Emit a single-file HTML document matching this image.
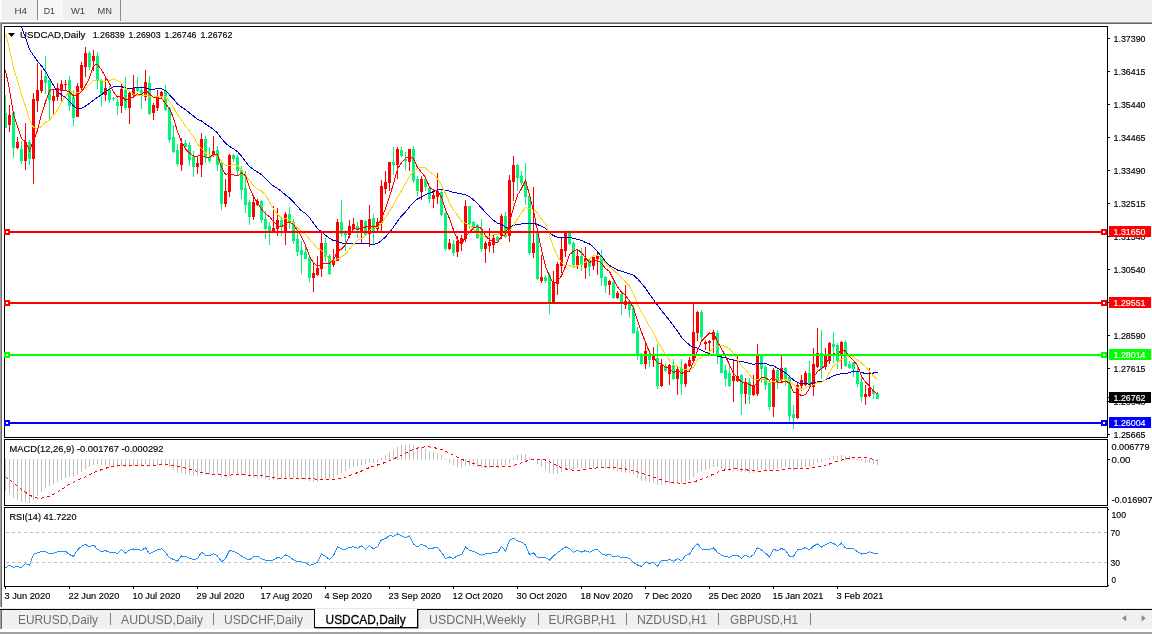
<!DOCTYPE html><html><head><meta charset="utf-8"><title>USDCAD,Daily</title>
<style>html,body{margin:0;padding:0;background:#fff;overflow:hidden}svg{display:block}text{font-family:"Liberation Sans",sans-serif;white-space:pre}</style></head><body>
<svg width="1152" height="634" viewBox="0 0 1152 634" shape-rendering="crispEdges">
<rect x="0" y="0" width="1152" height="634" fill="#fff"/>
<rect x="0" y="0" width="1152" height="21" fill="#f0f0f0"/>
<rect x="0" y="21" width="1152" height="1" fill="#f6f6f6"/>
<rect x="0" y="20" width="122" height="1" fill="#f5f5f5"/>
<rect x="0" y="21" width="122" height="1" fill="#fcfcfc"/>
<rect x="0" y="0" width="1" height="20" fill="#fcfcfc"/>
<rect x="1" y="0" width="1" height="20" fill="#f6f6f6"/>
<pattern id="ck" width="2" height="2" patternUnits="userSpaceOnUse"><rect width="2" height="2" fill="#f0f0f0"/><rect width="1" height="1" fill="#fff"/><rect x="1" y="1" width="1" height="1" fill="#fff"/></pattern>
<rect x="38" y="0" width="24" height="20" fill="url(#ck)"/>
<rect x="62" y="0" width="1" height="20" fill="#fafafa"/>
<rect x="37" y="0" width="1" height="20" fill="#8c8c8c"/>
<rect x="120" y="0" width="1" height="21" fill="#8c8c8c"/>
<rect x="0" y="22" width="1152" height="1" fill="#a0a0a0"/>
<rect x="0" y="23" width="1152" height="1" fill="#696969"/>
<rect x="0" y="22" width="1" height="585" fill="#a0a0a0"/>
<rect x="1" y="23" width="1" height="584" fill="#696969"/>
<text x="14.5" y="13.9" font-size="9.4" fill="#3c3c3c" text-anchor="start" textLength="12.5" lengthAdjust="spacingAndGlyphs">H4</text>
<text x="43.7" y="13.9" font-size="9.4" fill="#3c3c3c" text-anchor="start" textLength="11.3" lengthAdjust="spacingAndGlyphs">D1</text>
<text x="71" y="13.9" font-size="9.4" fill="#3c3c3c" text-anchor="start" textLength="14" lengthAdjust="spacingAndGlyphs">W1</text>
<text x="97.5" y="13.9" font-size="9.4" fill="#3c3c3c" text-anchor="start" textLength="14.5" lengthAdjust="spacingAndGlyphs">MN</text>
<rect x="4" y="26" width="1104" height="1" fill="#000"/>
<rect x="4" y="437" width="1104" height="1" fill="#000"/>
<rect x="4" y="26" width="1" height="412" fill="#000"/>
<rect x="1107" y="26" width="1" height="412" fill="#000"/>
<rect x="4" y="439" width="1104" height="1" fill="#000"/>
<rect x="4" y="505" width="1104" height="1" fill="#000"/>
<rect x="4" y="439" width="1" height="67" fill="#000"/>
<rect x="1107" y="439" width="1" height="67" fill="#000"/>
<rect x="4" y="507" width="1104" height="1" fill="#000"/>
<rect x="4" y="586" width="1104" height="1" fill="#000"/>
<rect x="4" y="507" width="1" height="80" fill="#000"/>
<rect x="1107" y="507" width="1" height="80" fill="#000"/>
<clipPath id="cm"><rect x="5" y="27" width="1102" height="410"/></clipPath>
<clipPath id="c2"><rect x="5" y="440" width="1102" height="65"/></clipPath>
<clipPath id="c3"><rect x="5" y="508" width="1102" height="78"/></clipPath>
<g clip-path="url(#cm)">
<path d="M5 95h1v33h-1zM4 113h3v15h-3zM13 112h1v46h-1zM12 112h3v36h-3zM21 141h1v23h-1zM20 149h3v12h-3zM29 140h1v25h-1zM28 142h3v17h-3zM45 56h1v38h-1zM44 76h3v7h-3zM49 79h1v41h-1zM48 80h3v20h-3zM69 76h1v35h-1zM68 80h3v26h-3zM73 90h1v36h-1zM72 97h3v21h-3zM89 51h1v19h-1zM88 53h3v14h-3zM97 52h1v37h-1zM96 56h3v24h-3zM101 79h1v27h-1zM100 81h3v14h-3zM109 86h1v17h-1zM108 90h3v10h-3zM113 97h1v4h-1zM112 98h3v1h-3zM117 99h1v16h-1zM116 102h3v4h-3zM125 77h1v33h-1zM124 90h3v18h-3zM137 77h1v15h-1zM136 87h3v4h-3zM141 86h1v23h-1zM140 90h3v5h-3zM149 76h1v39h-1zM148 83h3v31h-3zM165 85h1v26h-1zM164 90h3v20h-3zM169 107h1v36h-1zM168 108h3v32h-3zM173 125h1v28h-1zM172 137h3v15h-3zM177 144h1v22h-1zM176 150h3v14h-3zM185 140h1v9h-1zM184 143h3v4h-3zM189 142h1v24h-1zM188 145h3v15h-3zM193 151h1v26h-1zM192 157h3v10h-3zM205 136h1v27h-1zM204 139h3v18h-3zM209 147h1v16h-1zM208 157h3v4h-3zM217 146h1v25h-1zM216 150h3v15h-3zM221 162h1v48h-1zM220 163h3v41h-3zM233 154h1v8h-1zM232 155h3v4h-3zM237 155h1v21h-1zM236 157h3v14h-3zM241 166h1v33h-1zM240 170h3v20h-3zM245 171h1v42h-1zM244 188h3v17h-3zM249 200h1v25h-1zM248 202h3v15h-3zM261 200h1v23h-1zM260 201h3v19h-3zM265 211h1v28h-1zM264 219h3v10h-3zM269 222h1v23h-1zM268 226h3v5h-3zM281 218h1v18h-1zM280 220h3v6h-3zM289 207h1v22h-1zM288 214h3v9h-3zM293 219h1v25h-1zM292 222h3v19h-3zM297 233h1v23h-1zM296 239h3v13h-3zM301 241h1v33h-1zM300 250h3v5h-3zM305 245h1v14h-1zM304 252h3v7h-3zM309 255h1v27h-1zM308 258h3v20h-3zM325 238h1v24h-1zM324 243h3v14h-3zM329 254h1v21h-1zM328 256h3v18h-3zM341 200h1v37h-1zM340 222h3v12h-3zM345 230h1v21h-1zM344 232h3v3h-3zM357 222h1v16h-1zM356 226h3v4h-3zM365 220h1v16h-1zM364 221h3v14h-3zM373 214h1v30h-1zM372 218h3v13h-3zM393 147h1v28h-1zM392 162h3v3h-3zM401 147h1v10h-1zM400 150h3v6h-3zM405 152h1v18h-1zM404 159h3v2h-3zM413 146h1v37h-1zM412 149h3v32h-3zM417 176h1v20h-1zM416 179h3v12h-3zM425 176h1v15h-1zM424 179h3v8h-3zM429 187h1v16h-1zM428 188h3v11h-3zM441 190h1v26h-1zM440 192h3v23h-3zM445 212h1v39h-1zM444 213h3v36h-3zM453 240h1v16h-1zM452 244h3v9h-3zM469 206h1v23h-1zM468 206h3v18h-3zM473 221h1v9h-1zM472 222h3v5h-3zM477 224h1v15h-1zM476 225h3v13h-3zM481 219h1v33h-1zM480 233h3v16h-3zM497 236h1v7h-1zM496 237h3v4h-3zM505 212h1v26h-1zM504 216h3v21h-3zM517 164h1v27h-1zM516 165h3v13h-3zM521 171h1v14h-1zM520 176h3v7h-3zM525 163h1v42h-1zM524 181h3v16h-3zM529 195h1v60h-1zM528 196h3v57h-3zM537 232h1v48h-1zM536 233h3v46h-3zM545 275h1v8h-1zM544 277h3v4h-3zM549 273h1v41h-1zM548 275h3v27h-3zM569 230h1v15h-1zM568 232h3v12h-3zM573 241h1v27h-1zM572 243h3v22h-3zM581 248h1v23h-1zM580 256h3v9h-3zM589 258h1v18h-1zM588 260h3v7h-3zM601 250h1v36h-1zM600 256h3v22h-3zM605 276h1v17h-1zM604 277h3v9h-3zM613 280h1v19h-1zM612 282h3v16h-3zM621 292h1v23h-1zM620 294h3v10h-3zM629 300h1v18h-1zM628 301h3v9h-3zM633 306h1v28h-1zM632 308h3v25h-3zM637 327h1v33h-1zM636 331h3v23h-3zM641 353h1v12h-1zM640 356h3v8h-3zM649 350h1v17h-1zM648 355h3v5h-3zM657 344h1v45h-1zM656 358h3v28h-3zM665 364h1v8h-1zM664 366h3v5h-3zM673 359h1v21h-1zM672 365h3v14h-3zM681 359h1v36h-1zM680 368h3v16h-3zM701 310h1v32h-1zM700 312h3v25h-3zM717 330h1v34h-1zM716 333h3v23h-3zM721 355h1v18h-1zM720 357h3v16h-3zM725 365h1v21h-1zM724 370h3v9h-3zM729 363h1v24h-1zM728 373h3v13h-3zM741 374h1v41h-1zM740 375h3v19h-3zM749 378h1v26h-1zM748 382h3v13h-3zM761 355h1v28h-1zM760 356h3v13h-3zM765 365h1v25h-1zM764 367h3v18h-3zM769 381h1v29h-1zM768 383h3v24h-3zM777 368h1v21h-1zM776 370h3v11h-3zM785 367h1v19h-1zM784 368h3v11h-3zM789 375h1v48h-1zM788 377h3v39h-3zM793 405h1v24h-1zM792 414h3v4h-3zM809 361h1v26h-1zM808 373h3v12h-3zM821 330h1v49h-1zM820 353h3v16h-3zM833 332h1v31h-1zM832 344h3v3h-3zM837 343h1v26h-1zM836 345h3v16h-3zM845 340h1v27h-1zM844 342h3v24h-3zM849 361h1v8h-1zM848 364h3v4h-3zM853 362h1v15h-1zM852 362h3v7h-3zM857 366h1v21h-1zM856 371h3v13h-3zM861 376h1v26h-1zM860 382h3v15h-3zM873 385h1v14h-1zM872 391h3v3h-3zM877 392h1v7h-1zM876 394h3v5h-3z" fill="#00f57a"/>
<path d="M9 105h1v27h-1zM8 115h3v10h-3zM17 137h1v12h-1zM16 142h3v6h-3zM25 123h1v47h-1zM24 142h3v19h-3zM33 93h1v91h-1zM32 99h3v60h-3zM37 63h1v49h-1zM36 90h3v11h-3zM41 70h1v23h-1zM40 80h3v11h-3zM53 89h1v26h-1zM52 96h3v5h-3zM57 83h1v18h-1zM56 88h3v9h-3zM61 80h1v21h-1zM60 84h3v7h-3zM65 80h1v11h-1zM64 84h3v1h-3zM77 83h1v34h-1zM76 86h3v31h-3zM81 62h1v29h-1zM80 65h3v23h-3zM85 47h1v30h-1zM84 53h3v14h-3zM93 50h1v21h-1zM92 56h3v5h-3zM105 77h1v24h-1zM104 88h3v7h-3zM121 84h1v29h-1zM120 89h3v17h-3zM129 92h1v32h-1zM128 93h3v15h-3zM133 75h1v23h-1zM132 88h3v7h-3zM145 70h1v31h-1zM144 82h3v15h-3zM153 103h1v17h-1zM152 105h3v8h-3zM157 90h1v21h-1zM156 96h3v12h-3zM161 91h1v7h-1zM160 92h3v5h-3zM181 138h1v33h-1zM180 143h3v22h-3zM197 157h1v17h-1zM196 163h3v4h-3zM201 133h1v44h-1zM200 139h3v26h-3zM213 136h1v21h-1zM212 151h3v4h-3zM225 179h1v28h-1zM224 191h3v13h-3zM229 154h1v43h-1zM228 155h3v37h-3zM253 195h1v25h-1zM252 202h3v15h-3zM257 199h1v7h-1zM256 201h3v4h-3zM273 206h1v26h-1zM272 228h3v3h-3zM277 208h1v28h-1zM276 220h3v9h-3zM285 212h1v33h-1zM284 214h3v17h-3zM313 262h1v30h-1zM312 273h3v5h-3zM317 256h1v20h-1zM316 268h3v7h-3zM321 232h1v45h-1zM320 243h3v26h-3zM333 249h1v18h-1zM332 260h3v5h-3zM337 219h1v42h-1zM336 222h3v39h-3zM349 220h1v18h-1zM348 226h3v9h-3zM353 218h1v12h-1zM352 224h3v5h-3zM361 220h1v23h-1zM360 220h3v11h-3zM369 205h1v42h-1zM368 219h3v15h-3zM377 218h1v14h-1zM376 222h3v7h-3zM381 180h1v53h-1zM380 186h3v37h-3zM385 171h1v23h-1zM384 182h3v7h-3zM389 162h1v29h-1zM388 162h3v21h-3zM397 147h1v32h-1zM396 149h3v16h-3zM409 149h1v22h-1zM408 149h3v13h-3zM421 176h1v24h-1zM420 179h3v13h-3zM433 192h1v16h-1zM432 195h3v4h-3zM437 173h1v31h-1zM436 191h3v6h-3zM449 239h1v11h-1zM448 243h3v6h-3zM457 236h1v21h-1zM456 241h3v11h-3zM461 235h1v16h-1zM460 238h3v6h-3zM465 200h1v42h-1zM464 206h3v33h-3zM485 241h1v22h-1zM484 243h3v6h-3zM489 228h1v24h-1zM488 242h3v4h-3zM493 234h1v19h-1zM492 238h3v7h-3zM501 214h1v25h-1zM500 216h3v20h-3zM509 175h1v67h-1zM508 180h3v56h-3zM513 156h1v45h-1zM512 165h3v17h-3zM533 187h1v71h-1zM532 243h3v10h-3zM541 255h1v28h-1zM540 277h3v4h-3zM553 271h1v32h-1zM552 282h3v20h-3zM557 262h1v33h-1zM556 264h3v20h-3zM561 237h1v36h-1zM560 249h3v17h-3zM565 231h1v26h-1zM564 233h3v18h-3zM577 249h1v20h-1zM576 256h3v9h-3zM585 247h1v32h-1zM584 258h3v10h-3zM593 256h1v14h-1zM592 257h3v9h-3zM597 252h1v23h-1zM596 255h3v4h-3zM609 280h1v15h-1zM608 281h3v4h-3zM617 291h1v8h-1zM616 293h3v5h-3zM625 285h1v24h-1zM624 301h3v4h-3zM645 344h1v25h-1zM644 351h3v13h-3zM653 347h1v20h-1zM652 356h3v4h-3zM661 359h1v28h-1zM660 365h3v21h-3zM669 364h1v21h-1zM668 365h3v9h-3zM677 367h1v28h-1zM676 369h3v10h-3zM685 363h1v24h-1zM684 364h3v20h-3zM689 357h1v10h-1zM688 360h3v6h-3zM693 304h1v58h-1zM692 332h3v29h-3zM697 311h1v30h-1zM696 312h3v21h-3zM705 340h1v10h-1zM704 342h3v2h-3zM709 340h1v11h-1zM708 341h3v2h-3zM713 330h1v23h-1zM712 332h3v8h-3zM733 359h1v43h-1zM732 376h3v5h-3zM737 355h1v27h-1zM736 376h3v5h-3zM745 378h1v26h-1zM744 382h3v12h-3zM753 375h1v21h-1zM752 385h3v10h-3zM757 344h1v52h-1zM756 356h3v38h-3zM773 368h1v49h-1zM772 370h3v37h-3zM781 356h1v26h-1zM780 368h3v12h-3zM797 383h1v36h-1zM796 385h3v33h-3zM801 375h1v16h-1zM800 380h3v6h-3zM805 371h1v15h-1zM804 373h3v12h-3zM813 348h1v48h-1zM812 364h3v23h-3zM817 328h1v40h-1zM816 353h3v14h-3zM825 348h1v22h-1zM824 355h3v12h-3zM829 342h1v22h-1zM828 343h3v18h-3zM841 341h1v28h-1zM840 342h3v13h-3zM865 385h1v20h-1zM864 394h3v3h-3zM869 368h1v29h-1zM868 388h3v8h-3z" fill="#ff0000"/>
<polyline points="5.5,-13.2 9.5,-5.1 13.5,5.5 17.5,16.1 21.5,26.8 25.5,37.7 29.5,49.3 33.5,55.5 37.5,61.2 41.5,65.9 45.5,71.4 49.5,78.5 53.5,85.2 57.5,91.7 61.5,94.8 65.5,97.5 69.5,101.4 73.5,106.0 77.5,109.0 81.5,108.3 85.5,106.1 89.5,103.2 93.5,100.3 97.5,97.1 101.5,94.8 105.5,91.4 109.5,89.3 113.5,86.5 117.5,86.8 121.5,86.7 125.5,88.0 129.5,88.5 133.5,88.0 137.5,87.7 141.5,88.0 145.5,87.9 149.5,89.3 153.5,89.3 157.5,88.3 161.5,88.6 165.5,90.7 169.5,94.8 173.5,98.9 177.5,104.0 181.5,107.1 185.5,109.6 189.5,112.9 193.5,116.1 197.5,119.3 201.5,120.9 205.5,124.1 209.5,126.6 213.5,129.4 217.5,133.0 221.5,138.4 225.5,143.1 229.5,146.5 233.5,148.7 237.5,151.7 241.5,156.2 245.5,161.5 249.5,166.6 253.5,169.6 257.5,172.0 261.5,174.6 265.5,178.7 269.5,182.7 273.5,186.0 277.5,188.5 281.5,191.4 285.5,195.0 289.5,198.1 293.5,201.9 297.5,206.7 301.5,210.9 305.5,213.5 309.5,217.6 313.5,223.2 317.5,228.5 321.5,232.0 325.5,235.2 329.5,238.4 333.5,240.5 337.5,241.4 341.5,243.0 345.5,243.7 349.5,243.6 353.5,243.3 357.5,243.3 361.5,243.3 365.5,243.7 369.5,244.0 373.5,244.4 377.5,243.5 381.5,240.5 385.5,237.0 389.5,232.5 393.5,227.1 397.5,221.2 401.5,215.8 405.5,211.9 409.5,206.8 413.5,202.4 417.5,199.0 421.5,197.0 425.5,194.8 429.5,193.1 433.5,191.6 437.5,190.0 441.5,189.3 445.5,190.6 449.5,191.1 453.5,192.6 457.5,193.1 461.5,193.9 465.5,194.8 469.5,196.8 473.5,199.9 477.5,203.4 481.5,208.1 485.5,212.3 489.5,216.2 493.5,220.4 497.5,223.2 501.5,224.4 505.5,227.2 509.5,226.9 513.5,225.3 517.5,224.4 521.5,224.0 525.5,223.2 529.5,223.4 533.5,223.4 537.5,224.6 541.5,226.3 545.5,228.3 549.5,232.8 553.5,235.6 557.5,237.4 561.5,238.0 565.5,237.3 569.5,237.3 573.5,238.4 577.5,239.3 581.5,240.4 585.5,242.5 589.5,243.9 593.5,247.5 597.5,251.8 601.5,256.6 605.5,261.5 609.5,265.5 613.5,267.6 617.5,270.0 621.5,271.2 625.5,272.4 629.5,273.8 633.5,275.3 637.5,278.7 641.5,283.4 645.5,288.2 649.5,294.2 653.5,299.6 657.5,305.3 661.5,310.5 665.5,315.5 669.5,320.5 673.5,325.8 677.5,331.2 681.5,337.3 685.5,341.4 689.5,345.0 693.5,347.4 697.5,348.1 701.5,350.2 705.5,352.1 709.5,354.0 713.5,355.1 717.5,356.2 721.5,357.0 725.5,357.7 729.5,359.3 733.5,360.2 737.5,361.1 741.5,361.5 745.5,362.3 749.5,363.5 753.5,364.4 757.5,363.4 761.5,363.4 765.5,363.4 769.5,365.4 773.5,365.9 777.5,368.2 781.5,370.9 785.5,372.9 789.5,376.4 793.5,380.0 797.5,382.5 801.5,383.7 805.5,383.8 809.5,384.1 813.5,383.1 817.5,382.0 821.5,381.6 825.5,379.8 829.5,378.0 833.5,375.7 837.5,374.5 841.5,373.8 845.5,373.6 849.5,372.8 853.5,371.0 857.5,371.6 861.5,372.4 865.5,373.6 869.5,374.0 873.5,373.0 877.5,372.0" fill="none" stroke="#0000cd" stroke-width="1"/>
<polyline points="5.5,32.9 9.5,49.1 13.5,68.6 17.5,80.9 21.5,94.2 25.5,106.0 29.5,119.8 33.5,127.5 37.5,128.5 41.5,126.5 45.5,121.9 49.5,120.3 53.5,115.2 57.5,109.7 61.5,102.2 65.5,96.4 69.5,91.1 73.5,92.9 77.5,92.5 81.5,91.0 85.5,88.1 89.5,84.8 93.5,80.8 97.5,79.9 101.5,80.9 105.5,81.3 109.5,80.7 113.5,78.8 117.5,80.7 121.5,83.1 125.5,88.4 129.5,91.2 133.5,94.4 137.5,95.5 141.5,95.5 145.5,95.0 149.5,96.4 153.5,97.1 157.5,96.1 161.5,96.5 165.5,96.7 169.5,101.3 173.5,107.7 177.5,115.0 181.5,119.9 185.5,126.3 189.5,130.9 193.5,137.0 197.5,143.8 201.5,148.5 205.5,153.2 209.5,155.3 213.5,155.3 217.5,155.4 221.5,161.3 225.5,165.8 229.5,165.4 233.5,164.7 237.5,165.3 241.5,170.2 245.5,175.0 249.5,180.6 253.5,185.7 257.5,189.4 261.5,191.0 265.5,194.7 269.5,202.2 273.5,209.2 277.5,214.2 281.5,217.8 285.5,218.8 289.5,219.4 293.5,223.1 297.5,228.1 301.5,231.6 305.5,234.5 309.5,239.2 313.5,243.7 317.5,248.5 321.5,250.4 325.5,254.6 329.5,259.6 333.5,261.6 337.5,258.7 341.5,256.6 345.5,254.3 349.5,249.2 353.5,244.2 357.5,240.4 361.5,238.1 365.5,235.8 369.5,230.5 373.5,227.6 377.5,227.6 381.5,222.9 385.5,217.7 389.5,211.2 393.5,205.3 397.5,197.2 401.5,190.7 405.5,183.4 409.5,176.4 413.5,171.4 417.5,168.2 421.5,167.5 425.5,167.9 429.5,171.6 433.5,174.6 437.5,178.9 441.5,184.8 445.5,193.5 449.5,202.9 453.5,210.1 457.5,215.1 461.5,221.1 465.5,223.1 469.5,225.5 473.5,228.7 477.5,233.3 481.5,236.7 485.5,236.2 489.5,236.1 493.5,234.7 497.5,234.6 501.5,232.3 505.5,235.3 509.5,231.0 513.5,224.9 517.5,218.9 521.5,212.3 525.5,207.6 529.5,208.7 533.5,209.2 537.5,213.0 541.5,219.1 545.5,223.5 549.5,235.6 553.5,247.2 557.5,256.0 561.5,262.6 565.5,266.4 569.5,265.5 573.5,267.6 577.5,265.4 581.5,264.2 585.5,262.0 589.5,258.6 593.5,256.0 597.5,255.1 601.5,257.9 605.5,263.1 609.5,266.9 613.5,270.1 617.5,273.8 621.5,277.6 625.5,281.9 629.5,286.2 633.5,293.8 637.5,303.6 641.5,312.2 645.5,318.8 649.5,326.6 653.5,332.5 657.5,341.6 661.5,347.8 665.5,354.7 669.5,360.3 673.5,364.8 677.5,366.4 681.5,368.4 685.5,369.7 689.5,369.8 693.5,367.4 697.5,360.1 701.5,357.3 705.5,354.5 709.5,352.1 713.5,347.6 717.5,346.2 721.5,345.1 725.5,346.4 729.5,348.9 733.5,353.3 737.5,359.7 741.5,365.4 745.5,369.4 749.5,374.7 753.5,379.9 757.5,380.0 761.5,379.6 765.5,380.3 769.5,382.4 773.5,381.8 777.5,382.3 781.5,379.9 785.5,379.4 789.5,381.6 793.5,384.8 797.5,387.7 801.5,389.0 805.5,387.8 809.5,385.6 813.5,385.0 817.5,382.2 821.5,382.2 825.5,379.9 829.5,372.7 833.5,365.6 837.5,363.0 841.5,359.1 845.5,358.4 849.5,356.6 853.5,357.0 857.5,360.1 861.5,362.9 865.5,366.7 869.5,371.1 873.5,375.9 877.5,379.7" fill="none" stroke="#ffd700" stroke-width="1"/>
<polyline points="5.5,70.2 9.5,89.4 13.5,114.3 17.5,126.7 21.5,138.7 25.5,141.7 29.5,150.3 33.5,140.7 37.5,130.2 41.5,114.2 45.5,102.1 49.5,90.3 53.5,89.6 57.5,89.3 61.5,90.1 65.5,90.6 69.5,91.8 73.5,96.1 77.5,95.7 81.5,91.8 85.5,85.6 89.5,77.8 93.5,65.5 97.5,64.2 101.5,70.0 105.5,76.9 109.5,83.5 113.5,92.0 117.5,97.2 121.5,96.2 125.5,100.0 129.5,98.8 133.5,96.7 137.5,93.8 141.5,94.8 145.5,90.0 149.5,94.0 153.5,97.4 157.5,98.5 161.5,98.1 165.5,103.5 169.5,108.7 173.5,117.9 177.5,131.5 181.5,141.7 185.5,149.1 189.5,153.1 193.5,156.1 197.5,156.1 201.5,155.2 205.5,157.3 209.5,157.5 213.5,154.5 217.5,154.7 221.5,167.5 225.5,174.4 229.5,173.4 233.5,174.9 237.5,175.9 241.5,173.0 245.5,175.6 249.5,187.8 253.5,196.6 257.5,202.9 261.5,209.0 265.5,213.8 269.5,216.6 273.5,221.8 277.5,225.5 281.5,226.7 285.5,223.7 289.5,222.2 293.5,224.5 297.5,230.7 301.5,236.5 305.5,245.3 309.5,256.2 313.5,262.9 317.5,266.3 321.5,264.2 325.5,263.8 329.5,263.0 333.5,260.3 337.5,251.0 341.5,249.1 345.5,244.7 349.5,235.4 353.5,228.1 357.5,229.7 361.5,227.0 365.5,227.0 369.5,225.6 373.5,227.0 377.5,225.5 381.5,218.8 385.5,208.4 389.5,196.9 393.5,183.6 397.5,169.0 401.5,162.7 405.5,158.4 409.5,155.9 413.5,159.1 417.5,167.4 421.5,172.3 425.5,177.4 429.5,187.2 433.5,190.1 437.5,190.3 441.5,197.3 445.5,209.7 449.5,218.6 453.5,230.0 457.5,239.9 461.5,244.8 465.5,236.4 469.5,232.5 473.5,227.5 477.5,226.6 481.5,228.5 485.5,235.9 489.5,239.7 493.5,241.9 497.5,242.6 501.5,236.1 505.5,234.8 509.5,222.4 513.5,207.8 517.5,195.2 521.5,188.6 525.5,180.5 529.5,194.9 533.5,210.5 537.5,230.8 541.5,249.6 545.5,266.4 549.5,276.2 553.5,284.0 557.5,281.2 561.5,275.7 565.5,266.4 569.5,254.7 573.5,251.3 577.5,249.5 581.5,252.7 585.5,257.7 589.5,262.4 593.5,260.8 597.5,260.7 601.5,263.1 605.5,268.5 609.5,271.4 613.5,279.4 617.5,286.9 621.5,292.1 625.5,295.3 629.5,301.0 633.5,308.1 637.5,320.2 641.5,332.3 645.5,342.2 649.5,352.2 653.5,356.8 657.5,363.0 661.5,363.4 665.5,367.2 669.5,368.4 673.5,372.8 677.5,369.7 681.5,373.3 685.5,372.1 689.5,371.2 693.5,362.0 697.5,350.6 701.5,341.2 705.5,336.8 709.5,333.0 713.5,333.1 717.5,341.8 721.5,348.9 725.5,356.1 729.5,364.8 733.5,373.5 737.5,377.7 741.5,381.9 745.5,382.8 749.5,384.6 753.5,386.4 757.5,382.4 761.5,377.4 765.5,377.8 769.5,380.3 773.5,377.3 777.5,382.1 781.5,382.3 785.5,381.1 789.5,382.9 793.5,392.3 797.5,393.2 801.5,395.6 805.5,394.6 809.5,388.4 813.5,377.8 817.5,371.3 821.5,368.7 825.5,365.2 829.5,357.1 833.5,353.4 837.5,354.8 841.5,349.6 845.5,351.5 849.5,356.2 853.5,360.7 857.5,365.4 861.5,376.2 865.5,382.0 869.5,386.1 873.5,391.1 877.5,394.0" fill="none" stroke="#ff0000" stroke-width="1"/>
</g><g clip-path="url(#c2)">
<path d="M5 459h1v32h-1zM9 459h1v35h-1zM13 459h1v39h-1zM17 459h1v41h-1zM21 459h1v43h-1zM25 459h1v44h-1zM29 459h1v44h-1zM33 459h1v41h-1zM37 459h1v37h-1zM41 459h1v33h-1zM45 459h1v29h-1zM49 459h1v27h-1zM53 459h1v25h-1zM57 459h1v23h-1zM61 459h1v21h-1zM65 459h1v19h-1zM69 459h1v18h-1zM73 459h1v18h-1zM77 459h1v16h-1zM81 459h1v13h-1zM85 459h1v10h-1zM89 459h1v8h-1zM93 459h1v6h-1zM97 459h1v5h-1zM101 459h1v6h-1zM105 459h1v6h-1zM109 459h1v7h-1zM113 459h1v7h-1zM117 459h1v8h-1zM121 459h1v7h-1zM125 459h1v8h-1zM129 459h1v8h-1zM133 459h1v7h-1zM137 459h1v6h-1zM141 459h1v6h-1zM145 459h1v5h-1zM149 459h1v6h-1zM153 459h1v7h-1zM157 459h1v6h-1zM161 459h1v6h-1zM165 459h1v6h-1zM169 459h1v8h-1zM173 459h1v11h-1zM177 459h1v14h-1zM181 459h1v14h-1zM185 459h1v15h-1zM189 459h1v16h-1zM193 459h1v17h-1zM197 459h1v17h-1zM201 459h1v16h-1zM205 459h1v16h-1zM209 459h1v16h-1zM213 459h1v15h-1zM217 459h1v15h-1zM221 459h1v18h-1zM225 459h1v19h-1zM229 459h1v17h-1zM233 459h1v15h-1zM237 459h1v15h-1zM241 459h1v16h-1zM245 459h1v17h-1zM249 459h1v18h-1zM253 459h1v19h-1zM257 459h1v19h-1zM261 459h1v19h-1zM265 459h1v20h-1zM269 459h1v21h-1zM273 459h1v21h-1zM277 459h1v21h-1zM281 459h1v20h-1zM285 459h1v19h-1zM289 459h1v19h-1zM293 459h1v19h-1zM297 459h1v20h-1zM301 459h1v20h-1zM305 459h1v21h-1zM309 459h1v22h-1zM313 459h1v23h-1zM317 459h1v23h-1zM321 459h1v21h-1zM325 459h1v20h-1zM329 459h1v20h-1zM333 459h1v19h-1zM337 459h1v16h-1zM341 459h1v14h-1zM345 459h1v12h-1zM349 459h1v10h-1zM353 459h1v8h-1zM357 459h1v7h-1zM361 459h1v6h-1zM365 459h1v5h-1zM369 459h1v4h-1zM373 459h1v4h-1zM377 459h1v3h-1zM381 458h1v2h-1zM385 455h1v5h-1zM389 452h1v8h-1zM393 450h1v10h-1zM397 447h1v13h-1zM401 445h1v15h-1zM405 445h1v15h-1zM409 444h1v16h-1zM413 445h1v15h-1zM417 447h1v13h-1zM421 447h1v13h-1zM425 449h1v11h-1zM429 451h1v9h-1zM433 452h1v8h-1zM437 453h1v7h-1zM441 455h1v5h-1zM445 459h1v1h-1zM449 459h1v4h-1zM453 459h1v6h-1zM457 459h1v8h-1zM461 459h1v9h-1zM465 459h1v7h-1zM469 459h1v7h-1zM473 459h1v7h-1zM477 459h1v8h-1zM481 459h1v9h-1zM485 459h1v9h-1zM489 459h1v9h-1zM493 459h1v9h-1zM497 459h1v9h-1zM501 459h1v7h-1zM505 459h1v7h-1zM509 459h1v4h-1zM513 458h1v2h-1zM517 455h1v5h-1zM521 454h1v6h-1zM525 454h1v6h-1zM529 457h1v3h-1zM533 459h1v1h-1zM537 459h1v5h-1zM541 459h1v8h-1zM545 459h1v11h-1zM549 459h1v14h-1zM553 459h1v15h-1zM557 459h1v15h-1zM561 459h1v13h-1zM565 459h1v11h-1zM569 459h1v10h-1zM573 459h1v10h-1zM577 459h1v9h-1zM581 459h1v9h-1zM585 459h1v9h-1zM589 459h1v9h-1zM593 459h1v9h-1zM597 459h1v8h-1zM601 459h1v9h-1zM605 459h1v10h-1zM609 459h1v10h-1zM613 459h1v11h-1zM617 459h1v12h-1zM621 459h1v13h-1zM625 459h1v14h-1zM629 459h1v14h-1zM633 459h1v16h-1zM637 459h1v19h-1zM641 459h1v22h-1zM645 459h1v22h-1zM649 459h1v23h-1zM653 459h1v24h-1zM657 459h1v26h-1zM661 459h1v26h-1zM665 459h1v26h-1zM669 459h1v25h-1zM673 459h1v25h-1zM677 459h1v24h-1zM681 459h1v24h-1zM685 459h1v23h-1zM689 459h1v21h-1zM693 459h1v18h-1zM697 459h1v14h-1zM701 459h1v12h-1zM705 459h1v11h-1zM709 459h1v10h-1zM713 459h1v8h-1zM717 459h1v8h-1zM721 459h1v10h-1zM725 459h1v11h-1zM729 459h1v12h-1zM733 459h1v12h-1zM737 459h1v12h-1zM741 459h1v13h-1zM745 459h1v13h-1zM749 459h1v14h-1zM753 459h1v14h-1zM757 459h1v12h-1zM761 459h1v10h-1zM765 459h1v11h-1zM769 459h1v12h-1zM773 459h1v11h-1zM777 459h1v10h-1zM781 459h1v9h-1zM785 459h1v8h-1zM789 459h1v10h-1zM793 459h1v12h-1zM797 459h1v11h-1zM801 459h1v10h-1zM805 459h1v8h-1zM809 459h1v8h-1zM813 459h1v6h-1zM817 459h1v4h-1zM821 459h1v3h-1zM825 459h1v1h-1zM829 458h1v2h-1zM833 456h1v4h-1zM837 456h1v4h-1zM841 455h1v5h-1zM845 456h1v4h-1zM849 456h1v4h-1zM853 457h1v3h-1zM857 458h1v2h-1zM861 459h1v2h-1zM865 459h1v4h-1zM869 459h1v4h-1zM873 459h1v5h-1zM877 459h1v6h-1z" fill="#c0c0c0"/>
<polyline points="5.5,476.7 9.5,480.0 13.5,483.1 17.5,486.2 21.5,489.2 25.5,492.2 29.5,495.0 33.5,497.0 37.5,498.1 41.5,498.1 45.5,497.5 49.5,496.2 53.5,494.5 57.5,492.2 61.5,489.6 65.5,486.7 69.5,484.2 73.5,482.2 77.5,480.3 81.5,478.5 85.5,476.6 89.5,474.6 93.5,472.7 97.5,471.0 101.5,469.7 105.5,468.3 109.5,467.1 113.5,466.1 117.5,465.5 121.5,465.3 125.5,465.3 129.5,465.5 133.5,465.7 137.5,465.7 141.5,465.7 145.5,465.5 149.5,465.4 153.5,465.2 157.5,465.1 161.5,464.8 165.5,464.7 169.5,464.8 173.5,465.4 177.5,466.2 181.5,467.2 185.5,468.1 189.5,469.1 193.5,470.3 197.5,471.6 201.5,472.7 205.5,473.6 209.5,474.1 213.5,474.3 217.5,474.4 221.5,474.8 225.5,475.1 229.5,475.1 233.5,474.8 237.5,474.7 241.5,474.7 245.5,474.8 249.5,475.1 253.5,475.5 257.5,475.6 261.5,475.7 265.5,476.1 269.5,476.7 273.5,477.5 277.5,478.0 281.5,478.4 285.5,478.5 289.5,478.5 293.5,478.5 297.5,478.6 301.5,478.6 305.5,478.5 309.5,478.7 313.5,478.9 317.5,479.2 321.5,479.4 325.5,479.5 329.5,479.7 333.5,479.6 337.5,479.1 341.5,478.3 345.5,477.2 349.5,475.8 353.5,474.1 357.5,472.6 361.5,471.0 365.5,469.3 369.5,467.6 373.5,466.3 377.5,465.0 381.5,463.7 385.5,462.3 389.5,460.7 393.5,458.9 397.5,457.1 401.5,455.1 405.5,453.2 409.5,451.2 413.5,449.4 417.5,448.2 421.5,447.3 425.5,446.9 429.5,447.0 433.5,447.6 437.5,448.4 441.5,449.5 445.5,451.3 449.5,453.1 453.5,455.1 457.5,457.2 461.5,459.2 465.5,460.8 469.5,462.2 473.5,463.6 477.5,464.8 481.5,465.7 485.5,466.3 489.5,466.6 493.5,466.8 497.5,466.8 501.5,466.8 505.5,466.9 509.5,466.5 513.5,465.6 517.5,464.3 521.5,462.8 525.5,461.3 529.5,460.2 533.5,459.3 537.5,459.1 541.5,459.2 545.5,460.0 549.5,461.6 553.5,463.6 557.5,465.6 561.5,467.6 565.5,468.8 569.5,469.7 573.5,470.2 577.5,470.4 581.5,470.2 585.5,469.7 589.5,469.0 593.5,468.4 597.5,467.8 601.5,467.5 605.5,467.6 609.5,467.6 613.5,467.8 617.5,468.1 621.5,468.6 625.5,469.0 629.5,469.7 633.5,470.6 637.5,471.8 641.5,473.1 645.5,474.5 649.5,475.8 653.5,477.1 657.5,478.5 661.5,479.9 665.5,481.1 669.5,482.1 673.5,482.7 677.5,483.0 681.5,483.2 685.5,483.1 689.5,482.8 693.5,482.0 697.5,480.7 701.5,479.1 705.5,477.6 709.5,475.9 713.5,474.1 717.5,472.3 721.5,470.9 725.5,469.7 729.5,469.1 733.5,468.9 737.5,469.0 741.5,469.3 745.5,469.7 749.5,470.3 753.5,470.9 757.5,471.1 761.5,471.1 765.5,470.9 769.5,470.9 773.5,470.7 777.5,470.3 781.5,469.8 785.5,469.2 789.5,468.8 793.5,468.8 797.5,468.8 801.5,468.7 805.5,468.3 809.5,468.0 813.5,467.5 817.5,466.9 821.5,466.3 825.5,465.3 829.5,464.0 833.5,462.6 837.5,461.3 841.5,460.1 845.5,459.0 849.5,458.1 853.5,457.6 857.5,457.3 861.5,457.4 865.5,457.8 869.5,458.5 873.5,459.3 877.5,460.3" fill="none" stroke="#ff0000" stroke-width="1" stroke-dasharray="3 3"/>
</g>
<g clip-path="url(#c3)">
<polyline points="5.5,567.8 9.5,565.1 13.5,567.5 17.5,566.4 21.5,567.7 25.5,563.8 29.5,565.1 33.5,554.3 37.5,552.8 41.5,551.4 45.5,551.6 49.5,553.9 53.5,553.3 57.5,551.8 61.5,551.2 65.5,551.1 69.5,554.6 73.5,556.4 77.5,549.9 81.5,546.3 85.5,544.4 89.5,546.8 93.5,545.1 97.5,549.3 101.5,551.7 105.5,550.5 109.5,552.4 113.5,552.2 117.5,553.5 121.5,549.8 125.5,553.1 129.5,550.1 133.5,549.0 137.5,549.5 141.5,550.3 145.5,547.6 149.5,553.8 153.5,551.9 157.5,549.7 161.5,548.8 165.5,552.5 169.5,557.7 173.5,559.4 177.5,561.2 181.5,555.9 185.5,556.4 189.5,558.4 193.5,559.5 197.5,558.7 201.5,552.2 205.5,555.3 209.5,556.0 213.5,553.6 217.5,556.0 221.5,561.8 225.5,558.6 229.5,550.6 233.5,551.3 237.5,553.1 241.5,556.1 245.5,558.3 249.5,559.9 253.5,556.6 257.5,556.2 261.5,558.9 265.5,560.2 269.5,560.4 273.5,560.0 277.5,557.4 281.5,558.3 285.5,554.9 289.5,556.6 293.5,559.8 297.5,561.6 301.5,562.0 305.5,562.6 309.5,565.5 313.5,564.2 317.5,562.2 321.5,553.9 325.5,556.5 329.5,559.5 333.5,555.6 337.5,546.6 341.5,549.0 345.5,549.1 349.5,547.4 353.5,546.8 357.5,548.2 361.5,545.9 365.5,549.4 369.5,545.8 373.5,548.7 377.5,546.6 381.5,539.6 385.5,538.7 389.5,535.6 393.5,536.3 397.5,534.0 401.5,535.9 405.5,537.7 409.5,535.7 413.5,544.3 417.5,546.7 421.5,544.3 425.5,546.0 429.5,548.9 433.5,548.0 437.5,547.2 441.5,552.4 445.5,558.4 449.5,557.0 453.5,558.4 457.5,555.5 461.5,554.8 465.5,547.0 469.5,550.5 473.5,551.2 477.5,553.2 481.5,555.3 485.5,553.9 489.5,553.7 493.5,552.4 497.5,553.0 501.5,546.3 505.5,551.1 509.5,540.3 513.5,538.1 517.5,540.9 521.5,542.1 525.5,545.0 529.5,554.6 533.5,552.8 537.5,557.5 541.5,557.1 545.5,557.5 549.5,560.1 553.5,556.0 557.5,552.6 561.5,549.7 565.5,547.0 569.5,548.7 573.5,552.2 577.5,550.5 581.5,552.0 585.5,550.7 589.5,552.1 593.5,550.1 597.5,549.7 601.5,553.8 605.5,555.3 609.5,554.1 613.5,556.9 617.5,555.9 621.5,557.6 625.5,557.1 629.5,558.6 633.5,562.4 637.5,565.1 641.5,566.3 645.5,562.3 649.5,563.4 653.5,562.4 657.5,566.2 661.5,560.2 665.5,560.9 669.5,559.4 673.5,561.4 677.5,558.7 681.5,560.9 685.5,555.4 689.5,554.5 693.5,547.6 697.5,543.7 701.5,548.8 705.5,549.9 709.5,549.7 713.5,547.8 717.5,552.4 721.5,555.3 725.5,556.3 729.5,557.4 733.5,555.1 737.5,555.1 741.5,558.2 745.5,555.1 749.5,557.2 753.5,554.7 757.5,547.6 761.5,550.0 765.5,553.2 769.5,557.0 773.5,549.1 777.5,550.9 781.5,548.5 785.5,550.3 789.5,556.2 793.5,556.4 797.5,549.9 801.5,549.1 805.5,547.6 809.5,549.7 813.5,546.0 817.5,544.0 821.5,547.0 825.5,544.8 829.5,542.7 833.5,543.3 837.5,546.4 841.5,543.1 845.5,548.0 849.5,548.3 853.5,548.6 857.5,551.7 861.5,554.0 865.5,553.5 869.5,551.9 873.5,553.1 877.5,554.0" fill="none" stroke="#1e90ff" stroke-width="1"/>
</g>
<rect x="1108" y="38" width="2" height="1" fill="#000"/>
<text x="1113.5" y="41.5" font-size="9.4" fill="#000" text-anchor="start" textLength="32" lengthAdjust="spacingAndGlyphs" stroke="#000" stroke-width="0.15">1.37390</text>
<rect x="1108" y="71" width="2" height="1" fill="#000"/>
<text x="1113.5" y="74.5" font-size="9.4" fill="#000" text-anchor="start" textLength="32" lengthAdjust="spacingAndGlyphs" stroke="#000" stroke-width="0.15">1.36415</text>
<rect x="1108" y="104" width="2" height="1" fill="#000"/>
<text x="1113.5" y="107.5" font-size="9.4" fill="#000" text-anchor="start" textLength="32" lengthAdjust="spacingAndGlyphs" stroke="#000" stroke-width="0.15">1.35440</text>
<rect x="1108" y="137" width="2" height="1" fill="#000"/>
<text x="1113.5" y="140.5" font-size="9.4" fill="#000" text-anchor="start" textLength="32" lengthAdjust="spacingAndGlyphs" stroke="#000" stroke-width="0.15">1.34465</text>
<rect x="1108" y="170" width="2" height="1" fill="#000"/>
<text x="1113.5" y="173.5" font-size="9.4" fill="#000" text-anchor="start" textLength="32" lengthAdjust="spacingAndGlyphs" stroke="#000" stroke-width="0.15">1.33490</text>
<rect x="1108" y="203" width="2" height="1" fill="#000"/>
<text x="1113.5" y="206.5" font-size="9.4" fill="#000" text-anchor="start" textLength="32" lengthAdjust="spacingAndGlyphs" stroke="#000" stroke-width="0.15">1.32515</text>
<rect x="1108" y="236" width="2" height="1" fill="#000"/>
<text x="1113.5" y="239.5" font-size="9.4" fill="#000" text-anchor="start" textLength="32" lengthAdjust="spacingAndGlyphs" stroke="#000" stroke-width="0.15">1.31540</text>
<rect x="1108" y="269" width="2" height="1" fill="#000"/>
<text x="1113.5" y="272.5" font-size="9.4" fill="#000" text-anchor="start" textLength="32" lengthAdjust="spacingAndGlyphs" stroke="#000" stroke-width="0.15">1.30540</text>
<rect x="1108" y="302" width="2" height="1" fill="#000"/>
<text x="1113.5" y="305.5" font-size="9.4" fill="#000" text-anchor="start" textLength="32" lengthAdjust="spacingAndGlyphs" stroke="#000" stroke-width="0.15">1.29565</text>
<rect x="1108" y="335" width="2" height="1" fill="#000"/>
<text x="1113.5" y="338.5" font-size="9.4" fill="#000" text-anchor="start" textLength="32" lengthAdjust="spacingAndGlyphs" stroke="#000" stroke-width="0.15">1.28590</text>
<rect x="1108" y="368" width="2" height="1" fill="#000"/>
<text x="1113.5" y="371.5" font-size="9.4" fill="#000" text-anchor="start" textLength="32" lengthAdjust="spacingAndGlyphs" stroke="#000" stroke-width="0.15">1.27615</text>
<rect x="1108" y="401" width="2" height="1" fill="#000"/>
<text x="1113.5" y="404.5" font-size="9.4" fill="#000" text-anchor="start" textLength="32" lengthAdjust="spacingAndGlyphs" stroke="#000" stroke-width="0.15">1.26640</text>
<rect x="1108" y="434" width="2" height="1" fill="#000"/>
<text x="1113.5" y="437.5" font-size="9.4" fill="#000" text-anchor="start" textLength="32" lengthAdjust="spacingAndGlyphs" stroke="#000" stroke-width="0.15">1.25665</text>
<rect x="5" y="231" width="1102" height="2" fill="#ff0000"/>
<rect x="4" y="229" width="6" height="6" fill="#ff0000"/>
<rect x="6" y="231" width="2" height="2" fill="#fff"/>
<rect x="1101" y="229" width="6" height="6" fill="#ff0000"/>
<rect x="1103" y="231" width="2" height="2" fill="#fff"/>
<rect x="1109" y="226" width="42" height="11" fill="#ff0000"/>
<text x="1113.5" y="235.4" font-size="9.4" fill="#fff" text-anchor="start" textLength="32" lengthAdjust="spacingAndGlyphs" stroke="#fff" stroke-width="0.15">1.31650</text>
<rect x="5" y="302" width="1102" height="2" fill="#ff0000"/>
<rect x="4" y="300" width="6" height="6" fill="#ff0000"/>
<rect x="6" y="302" width="2" height="2" fill="#fff"/>
<rect x="1101" y="300" width="6" height="6" fill="#ff0000"/>
<rect x="1103" y="302" width="2" height="2" fill="#fff"/>
<rect x="1109" y="297" width="42" height="11" fill="#ff0000"/>
<text x="1113.5" y="306.4" font-size="9.4" fill="#fff" text-anchor="start" textLength="32" lengthAdjust="spacingAndGlyphs" stroke="#fff" stroke-width="0.15">1.29551</text>
<rect x="5" y="354" width="1102" height="2" fill="#00ff00"/>
<rect x="4" y="352" width="6" height="6" fill="#00ff00"/>
<rect x="6" y="354" width="2" height="2" fill="#fff"/>
<rect x="1101" y="352" width="6" height="6" fill="#00ff00"/>
<rect x="1103" y="354" width="2" height="2" fill="#fff"/>
<rect x="1109" y="349" width="42" height="11" fill="#00ff00"/>
<text x="1113.5" y="358.4" font-size="9.4" fill="#fff" text-anchor="start" textLength="32" lengthAdjust="spacingAndGlyphs" stroke="#fff" stroke-width="0.15">1.28014</text>
<rect x="5" y="422" width="1102" height="2" fill="#0000ff"/>
<rect x="4" y="420" width="6" height="6" fill="#0000ff"/>
<rect x="6" y="422" width="2" height="2" fill="#fff"/>
<rect x="1101" y="420" width="6" height="6" fill="#0000ff"/>
<rect x="1103" y="422" width="2" height="2" fill="#fff"/>
<rect x="1109" y="417" width="42" height="11" fill="#0000ff"/>
<text x="1113.5" y="426.4" font-size="9.4" fill="#fff" text-anchor="start" textLength="32" lengthAdjust="spacingAndGlyphs" stroke="#fff" stroke-width="0.15">1.26004</text>
<rect x="1109" y="392" width="42" height="11" fill="#000"/>
<text x="1113.5" y="400.8" font-size="9.4" fill="#fff" text-anchor="start" textLength="32" lengthAdjust="spacingAndGlyphs" stroke="#fff" stroke-width="0.15">1.26762</text>
<rect x="1108" y="397" width="2" height="1" fill="#000"/>
<polygon points="8,33 15,33 11.5,37" fill="#000" shape-rendering="auto"/>
<text x="20.1" y="37.8" font-size="9.4" fill="#000" text-anchor="start" textLength="65.3" lengthAdjust="spacingAndGlyphs" stroke="#000" stroke-width="0.15">USDCAD,Daily</text>
<text x="92.7" y="37.8" font-size="9.4" fill="#000" text-anchor="start" textLength="32" lengthAdjust="spacingAndGlyphs" stroke="#000" stroke-width="0.15">1.26839</text>
<text x="128.6" y="37.8" font-size="9.4" fill="#000" text-anchor="start" textLength="32" lengthAdjust="spacingAndGlyphs" stroke="#000" stroke-width="0.15">1.26903</text>
<text x="164.5" y="37.8" font-size="9.4" fill="#000" text-anchor="start" textLength="32" lengthAdjust="spacingAndGlyphs" stroke="#000" stroke-width="0.15">1.26746</text>
<text x="200.39999999999998" y="37.8" font-size="9.4" fill="#000" text-anchor="start" textLength="32" lengthAdjust="spacingAndGlyphs" stroke="#000" stroke-width="0.15">1.26762</text>
<text x="9.5" y="452" font-size="9.4" fill="#000" text-anchor="start" textLength="154" lengthAdjust="spacingAndGlyphs" stroke="#000" stroke-width="0.15">MACD(12,26,9) -0.001767 -0.000292</text>
<text x="9.5" y="520" font-size="9.4" fill="#000" text-anchor="start" textLength="67" lengthAdjust="spacingAndGlyphs" stroke="#000" stroke-width="0.15">RSI(14) 41.7220</text>
<text x="1111.5" y="450" font-size="9.4" fill="#000" text-anchor="start" textLength="38" lengthAdjust="spacingAndGlyphs" stroke="#000" stroke-width="0.15">0.006779</text>
<rect x="1108" y="459" width="2" height="1" fill="#000"/>
<text x="1111.5" y="463" font-size="9.4" fill="#000" text-anchor="start" textLength="19" lengthAdjust="spacingAndGlyphs" stroke="#000" stroke-width="0.15">0.00</text>
<text x="1111.5" y="502.5" font-size="9.4" fill="#000" text-anchor="start" textLength="41" lengthAdjust="spacingAndGlyphs" stroke="#000" stroke-width="0.15">-0.016907</text>
<text x="1111.5" y="518.2" font-size="9.4" fill="#000" text-anchor="start" textLength="14.5" lengthAdjust="spacingAndGlyphs" stroke="#000" stroke-width="0.15">100</text>
<text x="1110.4" y="535.8" font-size="9.4" fill="#000" text-anchor="start" textLength="9.5" lengthAdjust="spacingAndGlyphs" stroke="#000" stroke-width="0.15">70</text>
<text x="1110.4" y="566" font-size="9.4" fill="#000" text-anchor="start" textLength="9.5" lengthAdjust="spacingAndGlyphs" stroke="#000" stroke-width="0.15">30</text>
<text x="1111.5" y="582.8" font-size="9.4" fill="#000" text-anchor="start" textLength="4.5" lengthAdjust="spacingAndGlyphs" stroke="#000" stroke-width="0.15">0</text>
<rect x="1108" y="509" width="1" height="1" fill="#000"/>
<rect x="1108" y="585" width="1" height="1" fill="#000"/>
<path d="M6 532.5H1107M6 562.5H1107" stroke="#c0c0c0" stroke-width="1" stroke-dasharray="3 3" fill="none"/>
<rect x="5" y="587" width="1" height="2" fill="#000"/>
<text x="4.5" y="599" font-size="9.5" fill="#000" text-anchor="start" textLength="45.8" lengthAdjust="spacingAndGlyphs" stroke="#000" stroke-width="0.15">3 Jun 2020</text>
<rect x="69" y="587" width="1" height="2" fill="#000"/>
<text x="68.5" y="599" font-size="9.5" fill="#000" text-anchor="start" textLength="50.9" lengthAdjust="spacingAndGlyphs" stroke="#000" stroke-width="0.15">22 Jun 2020</text>
<rect x="133" y="587" width="1" height="2" fill="#000"/>
<text x="132.5" y="599" font-size="9.5" fill="#000" text-anchor="start" textLength="47.8" lengthAdjust="spacingAndGlyphs" stroke="#000" stroke-width="0.15">10 Jul 2020</text>
<rect x="197" y="587" width="1" height="2" fill="#000"/>
<text x="196.5" y="599" font-size="9.5" fill="#000" text-anchor="start" textLength="47.8" lengthAdjust="spacingAndGlyphs" stroke="#000" stroke-width="0.15">29 Jul 2020</text>
<rect x="261" y="587" width="1" height="2" fill="#000"/>
<text x="260.5" y="599" font-size="9.5" fill="#000" text-anchor="start" textLength="52.0" lengthAdjust="spacingAndGlyphs" stroke="#000" stroke-width="0.15">17 Aug 2020</text>
<rect x="325" y="587" width="1" height="2" fill="#000"/>
<text x="324.5" y="599" font-size="9.5" fill="#000" text-anchor="start" textLength="47.3" lengthAdjust="spacingAndGlyphs" stroke="#000" stroke-width="0.15">4 Sep 2020</text>
<rect x="389" y="587" width="1" height="2" fill="#000"/>
<text x="388.5" y="599" font-size="9.5" fill="#000" text-anchor="start" textLength="52.5" lengthAdjust="spacingAndGlyphs" stroke="#000" stroke-width="0.15">23 Sep 2020</text>
<rect x="453" y="587" width="1" height="2" fill="#000"/>
<text x="452.5" y="599" font-size="9.5" fill="#000" text-anchor="start" textLength="50.4" lengthAdjust="spacingAndGlyphs" stroke="#000" stroke-width="0.15">12 Oct 2020</text>
<rect x="517" y="587" width="1" height="2" fill="#000"/>
<text x="516.5" y="599" font-size="9.5" fill="#000" text-anchor="start" textLength="50.4" lengthAdjust="spacingAndGlyphs" stroke="#000" stroke-width="0.15">30 Oct 2020</text>
<rect x="581" y="587" width="1" height="2" fill="#000"/>
<text x="580.5" y="599" font-size="9.5" fill="#000" text-anchor="start" textLength="52.5" lengthAdjust="spacingAndGlyphs" stroke="#000" stroke-width="0.15">18 Nov 2020</text>
<rect x="645" y="587" width="1" height="2" fill="#000"/>
<text x="644.5" y="599" font-size="9.5" fill="#000" text-anchor="start" textLength="47.3" lengthAdjust="spacingAndGlyphs" stroke="#000" stroke-width="0.15">7 Dec 2020</text>
<rect x="709" y="587" width="1" height="2" fill="#000"/>
<text x="708.5" y="599" font-size="9.5" fill="#000" text-anchor="start" textLength="52.5" lengthAdjust="spacingAndGlyphs" stroke="#000" stroke-width="0.15">25 Dec 2020</text>
<rect x="773" y="587" width="1" height="2" fill="#000"/>
<text x="772.5" y="599" font-size="9.5" fill="#000" text-anchor="start" textLength="50.9" lengthAdjust="spacingAndGlyphs" stroke="#000" stroke-width="0.15">15 Jan 2021</text>
<rect x="837" y="587" width="1" height="2" fill="#000"/>
<text x="836.5" y="599" font-size="9.5" fill="#000" text-anchor="start" textLength="46.8" lengthAdjust="spacingAndGlyphs" stroke="#000" stroke-width="0.15">3 Feb 2021</text>
<rect x="0" y="608" width="1152" height="1" fill="#e8e8e8"/>
<rect x="0" y="609" width="1152" height="1" fill="#000"/>
<rect x="0" y="610" width="1152" height="19" fill="#f0f0f0"/>
<rect x="0" y="629" width="1152" height="3" fill="#fff"/>
<rect x="0" y="632" width="1152" height="2" fill="#a0a0a0"/>
<rect x="0" y="610" width="1" height="19" fill="#a0a0a0"/>
<rect x="1" y="610" width="1" height="19" fill="#696969"/>
<rect x="314" y="609" width="104" height="19" fill="#fff"/>
<rect x="314" y="609" width="1" height="19" fill="#000"/>
<rect x="417" y="609" width="1" height="19" fill="#000"/>
<rect x="418" y="610" width="1" height="19" fill="#a0a0a0"/>
<rect x="314" y="627" width="104" height="1" fill="#000"/>
<rect x="315" y="628" width="104" height="1" fill="#a0a0a0"/>
<text x="18" y="623.6" font-size="12.5" fill="#6d6d6d" text-anchor="start" textLength="80" lengthAdjust="spacingAndGlyphs">EURUSD,Daily</text>
<text x="121" y="623.6" font-size="12.5" fill="#6d6d6d" text-anchor="start" textLength="82" lengthAdjust="spacingAndGlyphs">AUDUSD,Daily</text>
<text x="224" y="623.6" font-size="12.5" fill="#6d6d6d" text-anchor="start" textLength="79" lengthAdjust="spacingAndGlyphs">USDCHF,Daily</text>
<text x="325.6" y="623.6" font-size="12.5" fill="#000" text-anchor="start" textLength="80" lengthAdjust="spacingAndGlyphs" stroke="#000" stroke-width="0.3">USDCAD,Daily</text>
<text x="429" y="623.6" font-size="12.5" fill="#6d6d6d" text-anchor="start" textLength="97" lengthAdjust="spacingAndGlyphs">USDCNH,Weekly</text>
<text x="548.5" y="623.6" font-size="12.5" fill="#6d6d6d" text-anchor="start" textLength="67.5" lengthAdjust="spacingAndGlyphs">EURGBP,H1</text>
<text x="637" y="623.6" font-size="12.5" fill="#6d6d6d" text-anchor="start" textLength="70" lengthAdjust="spacingAndGlyphs">NZDUSD,H1</text>
<text x="730" y="623.6" font-size="12.5" fill="#6d6d6d" text-anchor="start" textLength="68" lengthAdjust="spacingAndGlyphs">GBPUSD,H1</text>
<rect x="110" y="613" width="1" height="12" fill="#808080"/>
<rect x="213" y="613" width="1" height="12" fill="#808080"/>
<rect x="538" y="613" width="1" height="12" fill="#808080"/>
<rect x="626" y="613" width="1" height="12" fill="#808080"/>
<rect x="718" y="613" width="1" height="12" fill="#808080"/>
<rect x="810" y="613" width="1" height="12" fill="#808080"/>
<polygon points="1122,618.3 1126.2,615 1126.2,621.6" fill="#8c8c8c" shape-rendering="auto"/>
<polygon points="1145.8,618.3 1141.6,615 1141.6,621.6" fill="#8c8c8c" shape-rendering="auto"/>
</svg></body></html>
